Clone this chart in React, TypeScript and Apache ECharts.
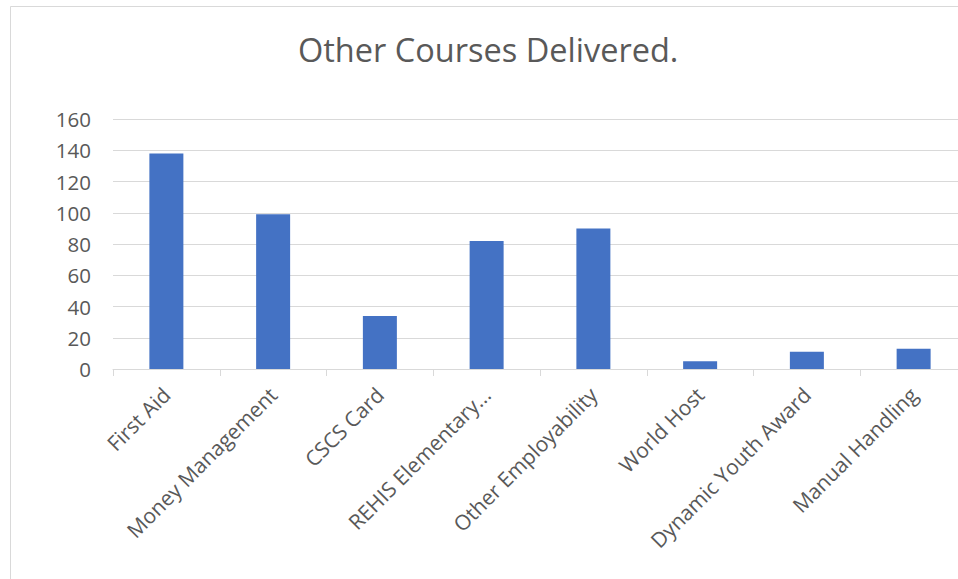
import React, { useEffect, useRef } from "react";
import * as echarts from "echarts";

const titleText = "Other Courses Delivered.";
const categories = [
  "First Aid",
  "Money Management",
  "CSCS Card",
  "REHIS Elementary...",
  "Other Employability",
  "World Host",
  "Dynamic Youth Award",
  "Manual Handling",
];
const values = [138, 99, 34, 82, 90, 5, 11, 13];
const yMin = 0;
const yMax = 160;
const yInterval = 20;

export default function App() {
  const ref = useRef<HTMLDivElement>(null);
  useEffect(() => {
    if (!ref.current) return;
    const chart = echarts.init(ref.current, undefined, { renderer: "svg" });
    const font = "'Open Sans', sans-serif";
    chart.setOption({
      animation: false,
      backgroundColor: "#ffffff",
      title: {
        text: titleText,
        left: 293,
        top: 28,
        textStyle: {
          fontFamily: font,
          fontSize: 32.5,
          fontWeight: "normal",
          color: "#595959",
        },
      },
      graphic: [
        {
          type: "rect",
          shape: { x: 10.5, y: 6.5, width: 1100, height: 1000 },
          style: { fill: "none", stroke: "#d9d9d9", lineWidth: 1 },
          silent: true,
        },
      ],
      grid: { left: 113, top: 119, width: 854, height: 250, containLabel: false },
      xAxis: {
        type: "category",
        data: categories,
        axisLine: { show: true, lineStyle: { color: "#d9d9d9", width: 1 } },
        axisTick: { show: true, length: 7, lineStyle: { color: "#d9d9d9" } },
        axisLabel: {
          rotate: 45,
          interval: 0,
          margin: 22,
          fontFamily: font,
          fontSize: 21,
          color: "#595959",
        },
      },
      yAxis: {
        type: "value",
        min: yMin,
        max: yMax,
        interval: yInterval,
        axisLine: { show: false },
        axisTick: { show: false },
        splitLine: { lineStyle: { color: "#d9d9d9", width: 1 } },
        axisLabel: {
          margin: 22,
          fontFamily: font,
          fontSize: 20.5,
          color: "#595959",
        },
      },
      series: [
        {
          type: "bar",
          data: values,
          barWidth: 34,
          itemStyle: { color: "#4472c4" },
        },
      ],
    });
    return () => chart.dispose();
  }, []);
  return (
    <div
      style={{
        position: "fixed",
        left: 0,
        top: 0,
        width: 958,
        height: 579,
        overflow: "hidden",
        background: "#ffffff",
      }}
    >
      <div ref={ref} style={{ width: 1000, height: 579 }} />
    </div>
  );
}
